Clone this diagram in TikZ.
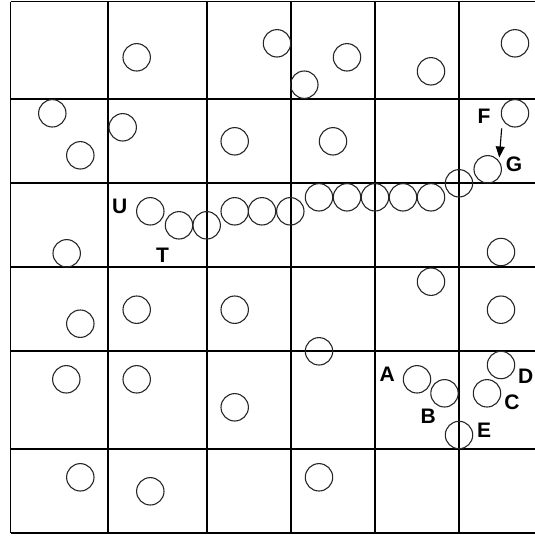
\documentclass[tikz,border=0pt]{standalone}
\usepackage{fontspec}
\setmainfont{Liberation Sans}
\usetikzlibrary{arrows.meta}
\begin{document}
\begin{tikzpicture}[x=1pt,y=-1pt,
  gridline/.style={line width=1.4pt,black},
  ball/.style={circle,draw=black!85,line width=1.1pt,minimum size=27.4pt,inner sep=0pt},
  lbl/.style={inner sep=0pt,font=\fontsize{21}{21}\selectfont\bfseries},
  arr/.style={line width=1.1pt,-{Triangle[length=11pt,width=9pt]}}]
\useasboundingbox (0,0) rectangle (535,536);
% grid
\foreach \y in {1.5,99,183,267,351,449,533} \draw[gridline] (10.5,\y) -- (540,\y);
\foreach \x in {10.5,108,207,291,375,459} \draw[gridline] (\x,1.5) -- (\x,533);
% circles
\foreach \n/\x/\y in {
 c1/136.7/57.3, c2/277/43.3, c3/304.3/84.7, c4/347/57.3, c5/431/71.3, c6/515/43.3,
 c7/52.3/113.3, c8/80.3/155.3, c9/122.7/127.3, c10/234.7/141.3, c11/333/141.3,
 cF/515/113.3, cG/487.7/169.3,
 cU/150.3/211.3, cT/179/225.3, c16/206.7/225.3, c17/234.7/211.3, c18/262/211.3,
 c19/290.3/211.3, c20/319/197.3, c21/347/197.3, c22/375/197.3, c23/403/197.3,
 c24/431/197.3, c25/459/183.3, c26/66.7/253.3, c27/501/252,
 c28/431/281.7, c29/80.3/323.7, c30/136.7/309.7, c31/234.7/309.7, c32/501/309.7,
 c33/319/351.3, c34/66.3/379.3, c35/136.7/379.3, c36/234.7/407.3,
 cA/417/379.3, cB/444.5/393.3, cC/487/393.3, cD/501/365, cE/459/435,
 c42/80.3/477.3, c43/150.3/491.3, c44/319/477.3}
 \node[ball] (\n) at (\x,\y) {};
% labels
\node[lbl] (lU) at (119.7,206.7) {U};
\node[lbl] (lT) at (162.5,255) {T};
\node[lbl] (lF) at (484,116) {F};
\node[lbl] (lG) at (514,164) {G};
\node[lbl] (lA) at (387.3,374.2) {A};
\node[lbl] (lB) at (428.3,416.7) {B};
\node[lbl] (lC) at (512,402) {C};
\node[lbl] (lD) at (525.8,375.8) {D};
\node[lbl] (lE) at (484,430) {E};
% arrow
\coordinate (aS) at (501.7,128.3);
\coordinate (aE) at (499.3,157.5);
\draw[arr] (aS) -- (aE);
\end{tikzpicture}
\end{document}
